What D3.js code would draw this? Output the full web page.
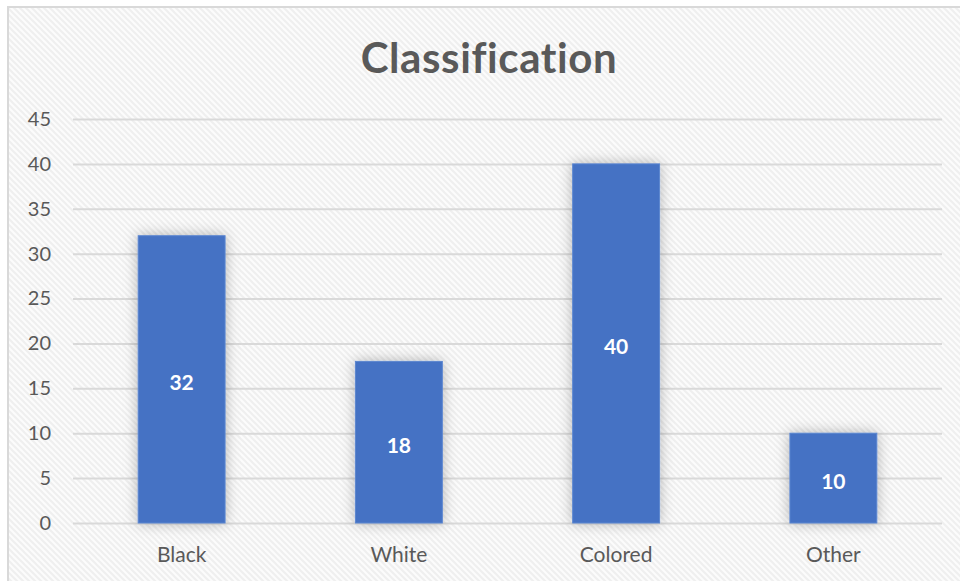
<!DOCTYPE html>
<html>
<head>
<meta charset="utf-8">
<script src="https://cdn.jsdelivr.net/npm/d3@7"></script>
<style>
  html, body { margin: 0; padding: 0; background: #ffffff; }
  svg { display: block; }
</style>
</head>
<body>
<svg id="chart" width="960" height="581"></svg>
<script>
// Chart data
const categories = ["Black", "White", "Colored", "Other"];
const values = [32, 18, 40, 10];
const yTicks = [0, 5, 10, 15, 20, 25, 30, 35, 40, 45];
const chartTitle = "Classification";

const W = 960, H = 581;
const margin = { left: 73, right: 18, top: 119, bottom: 58 };
const font = "Lato, 'Open Sans', sans-serif";
const textGray = "#595959";

const svg = d3.select("#chart");
const defs = svg.append("defs");

// Diagonal hatch background
const pat = defs.append("pattern")
  .attr("id", "hatch")
  .attr("patternUnits", "userSpaceOnUse")
  .attr("width", 6).attr("height", 6);
pat.append("rect").attr("width", 6).attr("height", 6).attr("fill", "#fcfcfc");
pat.append("path")
  .attr("d", "M-1.5,4.5 l3,3 M0,0 l6,6 M4.5,-1.5 l3,3")
  .attr("stroke", "#efefef").attr("stroke-width", 2);

// Soft glow under the bars
const f = defs.append("filter").attr("id", "glow")
  .attr("x", "-50%").attr("y", "-50%").attr("width", "200%").attr("height", "200%");
f.append("feDropShadow")
  .attr("dx", 0).attr("dy", 0).attr("stdDeviation", 7)
  .attr("flood-color", "#000").attr("flood-opacity", 0.28);

svg.append("rect").attr("x", 8).attr("y", 7).attr("width", W).attr("height", H)
  .attr("fill", "url(#hatch)")
  .attr("stroke", "#d9d9d9").attr("stroke-width", 2);

const x = d3.scaleBand()
  .domain(categories)
  .range([margin.left, W - margin.right])
  .paddingInner(0.6).paddingOuter(0.3);

const y = d3.scaleLinear()
  .domain([0, 45])
  .range([H - margin.bottom, margin.top]);

// Gridlines
const grid = d3.axisLeft(y).tickValues(yTicks)
  .tickSize(-(W - margin.right - margin.left)).tickFormat("");
svg.append("g").attr("transform", `translate(${margin.left},0)`)
  .call(grid)
  .call(g => g.select(".domain").remove())
  .call(g => g.selectAll("line").attr("stroke", "#d9d9d9").attr("stroke-width", 2));

// Y tick labels
const yAxis = d3.axisLeft(y).tickValues(yTicks).tickSize(0).tickPadding(22);
svg.append("g").attr("transform", `translate(${margin.left},0)`)
  .call(yAxis)
  .call(g => g.select(".domain").remove())
  .call(g => g.selectAll("text")
    .attr("fill", textGray).attr("font-family", font).attr("font-size", 20));

// Bars
svg.append("g").selectAll("rect")
  .data(values)
  .join("rect")
  .attr("x", (d, i) => x(categories[i]))
  .attr("y", d => y(d))
  .attr("width", x.bandwidth())
  .attr("height", d => y(0) - y(d))
  .attr("fill", "#4472c4")
  .attr("stroke", "#5b86d0").attr("stroke-width", 1)
  .attr("filter", "url(#glow)");

// Value labels
svg.append("g").selectAll("text")
  .data(values)
  .join("text")
  .attr("x", (d, i) => x(categories[i]) + x.bandwidth() / 2)
  .attr("y", d => (y(d) + y(0)) / 2)
  .attr("dy", "0.5em")
  .attr("text-anchor", "middle")
  .attr("fill", "#ffffff")
  .attr("font-family", font).attr("font-weight", "bold").attr("font-size", 21)
  .text(d => d);

// X axis
const xAxis = d3.axisBottom(x).tickSize(0).tickPadding(24);
svg.append("g").attr("transform", `translate(0,${y(0)})`)
  .call(xAxis)
  .call(g => g.select(".domain").remove())
  .call(g => g.selectAll("text")
    .attr("fill", textGray).attr("font-family", font).attr("font-size", 21));

// Title
svg.append("text")
  .attr("x", 489).attr("y", 73)
  .attr("text-anchor", "middle")
  .attr("fill", textGray)
  .attr("font-family", font).attr("font-weight", "bold").attr("font-size", 42)
  .attr("letter-spacing", 0.6)
  .text(chartTitle);
</script>
</body>
</html>
